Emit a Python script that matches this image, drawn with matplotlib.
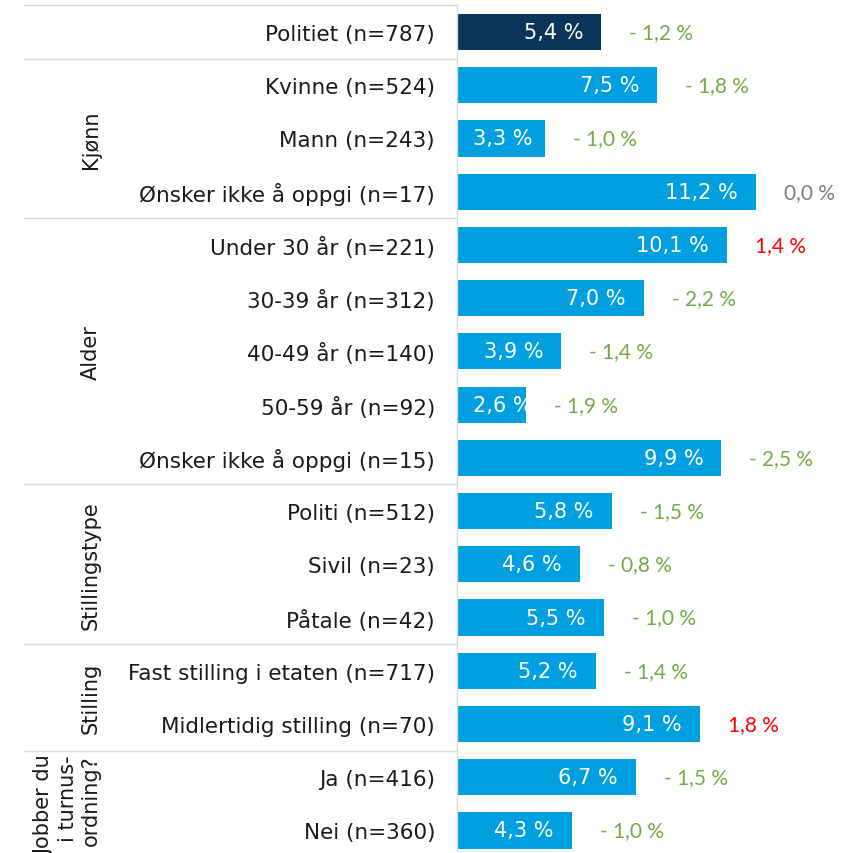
import matplotlib
matplotlib.use("Agg")
import matplotlib.pyplot as plt
import matplotlib.transforms as mtransforms

# ---------------- data ----------------
categories = [
    "Politiet (n=787)",
    "Kvinne (n=524)", "Mann (n=243)", "Ønsker ikke å oppgi (n=17)",
    "Under 30 år (n=221)", "30-39 år (n=312)", "40-49 år (n=140)",
    "50-59 år (n=92)", "Ønsker ikke å oppgi (n=15)",
    "Politi (n=512)", "Sivil (n=23)", "Påtale (n=42)",
    "Fast stilling i etaten (n=717)", "Midlertidig stilling (n=70)",
    "Ja (n=416)", "Nei (n=360)",
]
values = [5.4, 7.5, 3.3, 11.2, 10.1, 7.0, 3.9, 2.6, 9.9, 5.8, 4.6, 5.5, 5.2, 9.1, 6.7, 4.3]
changes = [-1.2, -1.8, -1.0, 0.0, 1.4, -2.2, -1.4, -1.9, -2.5, -1.5, -0.8, -1.0, -1.4, 1.8, -1.5, -1.0]
group_names = ["", "Kjønn", "Alder", "Stillingstype", "Stilling", "Jobber du\ni turnus-\nordning?"]
group_sizes = [1, 3, 5, 3, 2, 2]

# ---------------- style ----------------
NAVY = "#0B3558"
BLUE = "#009FE0"
GREEN = "#70AD47"
GREY = "#7F7F6F"
RED = "#FF0000"
LINE = "#D9D9D9"
TEXT = "#1A1A1A"
LABEL_FONT = "DejaVu Sans"
CHANGE_FONT = "Lato"
LABEL_SIZE = 15.5

W, H, DPI = 856, 854, 100
fig = plt.figure(figsize=(W / DPI, H / DPI), dpi=DPI)
px = 72.0 / DPI  # points per pixel

ax_left_px, ax_top_px = 457, 6.4
ax = fig.add_axes([ax_left_px / W, 0, 1 - ax_left_px / W, 1 - ax_top_px / H])

n = len(categories)
row_px = 53.23
rows_visible = (H - ax_top_px) / row_px
ax.set_ylim(-0.5 + rows_visible, -0.5)
px_per_unit = 26.7
ax.set_xlim(0, (W - ax_left_px) / px_per_unit)

ypos = list(range(n))
colors = [NAVY] + [BLUE] * (n - 1)
bars = ax.barh(ypos, values, height=0.68, color=colors, zorder=2)

# spines / ticks
for s in ["top", "right", "bottom"]:
    ax.spines[s].set_visible(False)
ax.spines["left"].set_color(LINE)
ax.spines["left"].set_linewidth(1.0)
ax.set_xticks([])
ax.set_yticks(ypos)
ax.set_yticklabels(categories, fontsize=LABEL_SIZE, family=LABEL_FONT, color=TEXT)
ax.tick_params(axis="y", length=0, pad=22 * px)

# value labels inside bars
fig.canvas.draw()
renderer = fig.canvas.get_renderer()
for i, (b, v) in enumerate(zip(bars, values)):
    t = ax.annotate(f"{v:.1f} %".replace(".", ","), xy=(v, i), xytext=(-18 * px, 0),
                    textcoords="offset points", ha="right", va="center",
                    fontsize=15, family=LABEL_FONT, color="white", zorder=3)
    bb = t.get_window_extent(renderer)
    ax0 = ax.transData.transform((0, 0))[0]
    if bb.x0 < ax0 + 16:
        t.remove()
        t = ax.annotate(f"{v:.1f} %".replace(".", ","), xy=(0, i), xytext=(16 * px, 0),
                        textcoords="offset points", ha="left", va="center",
                        fontsize=15, family=LABEL_FONT, color="white", zorder=3)
    t.set_clip_path(b)

# change labels
for i, (v, c) in enumerate(zip(values, changes)):
    if c < 0:
        s, col = f"- {abs(c):.1f} %", GREEN
    elif c > 0:
        s, col = f"{c:.1f} %", RED
    else:
        s, col = f"{c:.1f} %", GREY
    ax.annotate(s.replace(".", ","), xy=(v, i), xytext=(28 * px, 0),
                textcoords="offset points", ha="left", va="center",
                fontsize=15, family=CHANGE_FONT, color=col)

# group separators and group labels
trans = mtransforms.blended_transform_factory(ax.transAxes, ax.transData)
ax_w_px = W - ax_left_px
line_x0 = (24 - ax_left_px) / ax_w_px
lab_x = (101 - ax_left_px) / ax_w_px
start = 0
bounds = [-0.5]
for name, size in zip(group_names, group_sizes):
    end = start + size
    bounds.append(end - 0.5)
    if name:
        ax.text(lab_x, (start + end - 1) / 2, name, transform=trans, rotation=90,
                ha="right", va="center", multialignment="right", fontsize=15,
                family=LABEL_FONT, color=TEXT, linespacing=1.2, clip_on=False)
    start = end
for yb in bounds[:-1]:
    ax.plot([line_x0, 0], [yb, yb], transform=trans, color=LINE, lw=1.0, clip_on=False)

fig.savefig("out.png", dpi=DPI)
